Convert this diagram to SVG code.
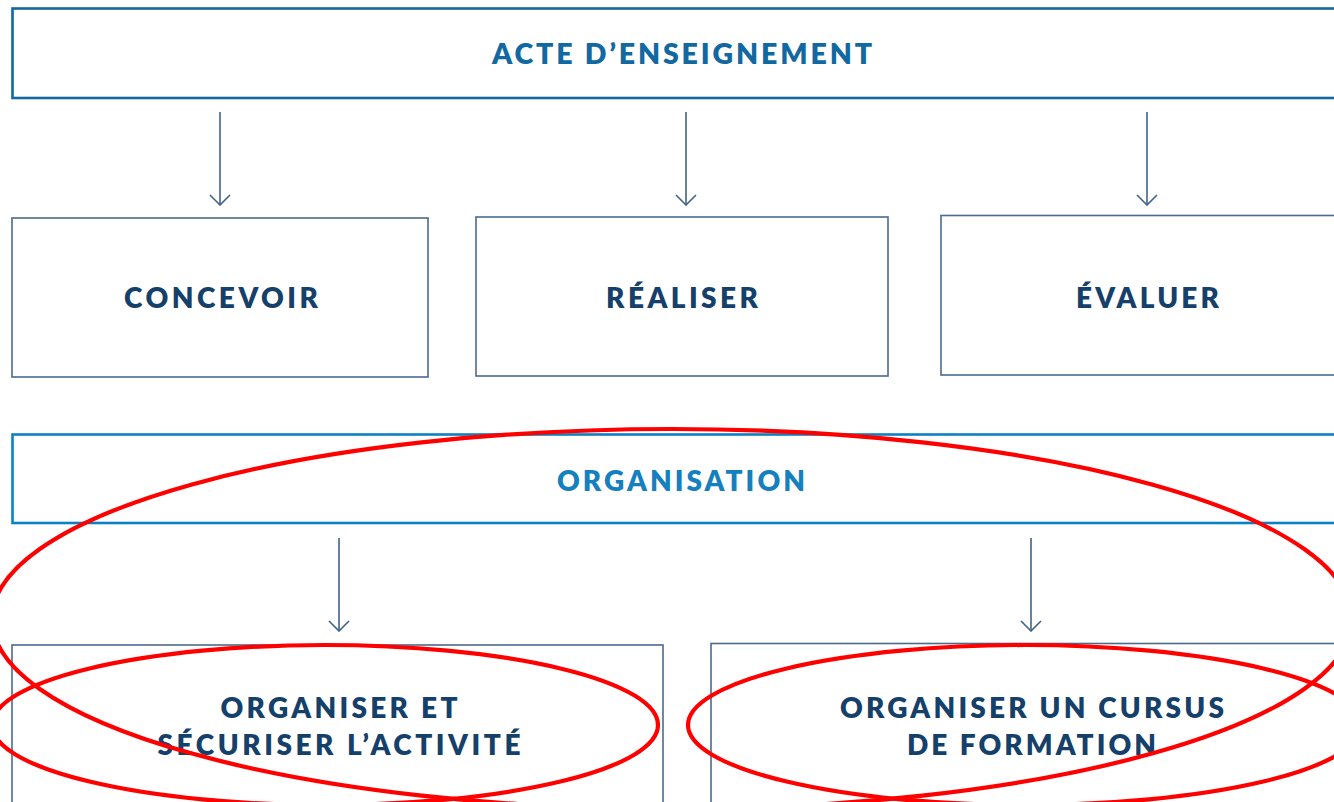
<svg xmlns="http://www.w3.org/2000/svg" width="1334" height="802" viewBox="0 0 1334 802">
  <style>
    .hdr { fill: #ffffff; stroke-width: 2.6; }
    .box { fill: #ffffff; stroke: #4a6a8e; stroke-width: 1.6; }
    .t { font-family: Lato, "Liberation Sans", sans-serif; font-weight: 800; text-anchor: middle; }
    .tn { fill: #15406a; font-size: 28px; }
    .conn { stroke: #3f6389; stroke-width: 1.6; fill: none; }
    .red { fill: none; stroke: #ff0000; stroke-width: 4.2; }
  </style>
  <defs>
    <marker id="arr" viewBox="0 0 12 22" refX="11" refY="11" markerWidth="12" markerHeight="22" markerUnits="userSpaceOnUse" orient="auto">
      <path d="M1,1 L11,11 L1,21" fill="none" stroke="#3f6389" stroke-width="1.6"/>
    </marker>
  </defs>
  <rect width="1334" height="802" fill="#ffffff"/>

  <g id="acte">
    <rect class="hdr" x="12.5" y="8.5" width="1340" height="89.5" stroke="#1268a0"/>
    <text class="t" x="682" y="63.5" font-size="28.5" fill="#1268a0" textLength="380" lengthAdjust="spacing">ACTE D’ENSEIGNEMENT</text>
  </g>

  <g id="concevoir">
    <rect class="box" x="12" y="218" width="416" height="159"/>
    <text class="t tn" x="221" y="308" textLength="194" lengthAdjust="spacing">CONCEVOIR</text>
  </g>
  <g id="realiser">
    <rect class="box" x="476" y="217" width="412" height="159"/>
    <text class="t tn" x="682" y="308" textLength="152" lengthAdjust="spacing">RÉALISER</text>
  </g>
  <g id="evaluer">
    <rect class="box" x="941" y="215.5" width="410" height="159.5"/>
    <text class="t tn" x="1147.5" y="308" textLength="143" lengthAdjust="spacing">ÉVALUER</text>
  </g>

  <g id="organisation">
    <rect class="hdr" x="12.5" y="434.5" width="1340" height="88.5" stroke="#0a82c2"/>
    <text class="t" x="681" y="491" font-size="28" fill="#1680bf" textLength="248" lengthAdjust="spacing">ORGANISATION</text>
  </g>

  <g id="organiser-securiser">
    <rect class="box" x="12" y="645" width="651" height="180"/>
    <text class="t tn" x="339" y="718" textLength="237" lengthAdjust="spacing">ORGANISER ET</text>
    <text class="t tn" x="339" y="755" textLength="363" lengthAdjust="spacing">SÉCURISER L’ACTIVITÉ</text>
  </g>
  <g id="organiser-cursus">
    <rect class="box" x="711" y="643.5" width="640" height="180"/>
    <text class="t tn" x="1032" y="718" textLength="384" lengthAdjust="spacing">ORGANISER UN CURSUS</text>
    <text class="t tn" x="1031.5" y="755" textLength="249" lengthAdjust="spacing">DE FORMATION</text>
  </g>

  <g id="connectors">
    <line class="conn" x1="220" y1="112" x2="220" y2="205" marker-end="url(#arr)"/>
    <line class="conn" x1="686" y1="112" x2="686" y2="205" marker-end="url(#arr)"/>
    <line class="conn" x1="1147" y1="112" x2="1147" y2="205" marker-end="url(#arr)"/>
    <line class="conn" x1="339" y1="538" x2="339" y2="631" marker-end="url(#arr)"/>
    <line class="conn" x1="1031" y1="538" x2="1031" y2="631" marker-end="url(#arr)"/>
  </g>

  <g id="annotations">
    <ellipse class="red" cx="672" cy="619" rx="680" ry="190"/>
    <ellipse class="red" cx="325" cy="725" rx="333" ry="80"/>
    <ellipse class="red" cx="1025" cy="725" rx="337" ry="80"/>
  </g>
</svg>
